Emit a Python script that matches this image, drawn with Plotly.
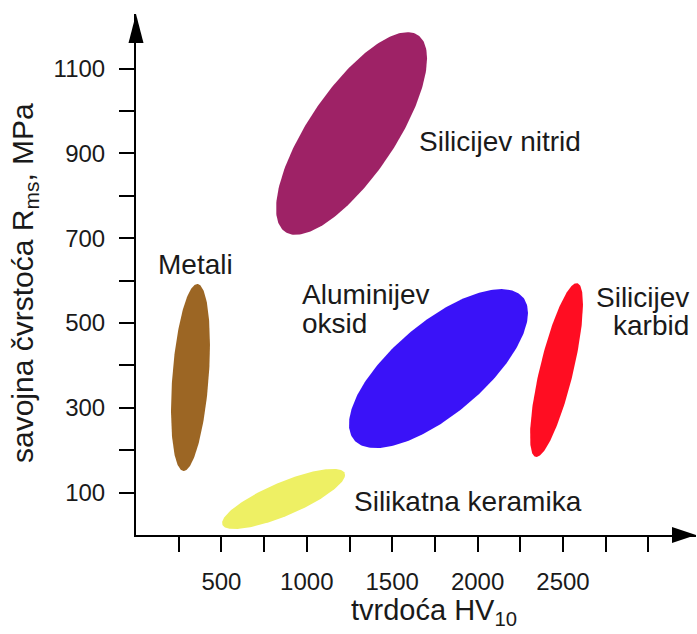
import numpy as np
import plotly.graph_objects as go

# ---- data ----
materials = ["Metali", "Silikatna keramika", "Silicijev nitrid", "Aluminijev oksid", "Silicijev karbid"]
hv_min = [205, 504, 820, 1247, 2307]
hv_max = [433, 1224, 1704, 2295, 2617]
rms_min = [151, 14, 708, 205, 184]
rms_max = [592, 156, 1186, 580, 594]
tilt_corr = [0.35, 0.80, 0.74, 0.70, 0.76]
colors = ["#9c6624", "#eef064", "#9e2266", "#3a12f8", "#ff0d22"]

x_major = [500, 1000, 1500, 2000, 2500]
x_major_text = ["500", "1000", "1500", "2000", "2500"]
x_minor = [250, 750, 1250, 1750, 2250, 2750, 3000]
y_major = [100, 300, 500, 700, 900, 1100]
y_major_text = ["100", "300", "500", "700", "900", "1100"]
y_minor = [200, 400, 600, 800, 1000]

W, H = 697, 634
ML, MR, MT, MB = 136, 1, 14, 99
pw, ph = W - ML - MR, H - MT - MB
px_per_x = 42.7 / 250
px_per_y = 42.4 / 100
x_range = [0, pw / px_per_x]
y_range = [0, ph / px_per_y]

FONT = "Liberation Sans, Arial, sans-serif"

fig = go.Figure()
t = np.linspace(0, 2 * np.pi, 241)
for name, x0, x1, y0, y1, r, c in zip(materials, hv_min, hv_max, rms_min, rms_max, tilt_corr, colors):
    cx, cy = (x0 + x1) / 2, (y0 + y1) / 2
    hx, hy = (x1 - x0) / 2, (y1 - y0) / 2
    d = np.arccos(r)
    fig.add_trace(go.Scatter(
        x=cx + hx * np.cos(t), y=cy + hy * np.cos(t - d),
        mode="lines", fill="toself", fillcolor=c,
        line=dict(width=0, color=c), name=name, hoverinfo="name", showlegend=False))

tick_font = dict(family=FONT, size=24, color="#1a1a1a")
fig.update_xaxes(range=x_range, showgrid=False, zeroline=False,
                 showline=True, linecolor="black", linewidth=2,
                 tickmode="array", tickvals=x_major, ticktext=x_major_text,
                 ticks="outside", ticklen=15, tickwidth=2, tickcolor="black",
                 ticklabelstandoff=9, tickfont=tick_font,
                 minor=dict(tickmode="array", tickvals=x_minor, ticks="outside",
                            ticklen=15, tickwidth=2, tickcolor="black"))
fig.update_yaxes(range=y_range, showgrid=False, zeroline=False,
                 showline=True, linecolor="black", linewidth=2,
                 tickmode="array", tickvals=y_major, ticktext=y_major_text,
                 ticks="outside", ticklen=15, tickwidth=2, tickcolor="black",
                 ticklabelstandoff=9, tickfont=tick_font,
                 minor=dict(tickmode="array", tickvals=y_minor, ticks="outside",
                            ticklen=15, tickwidth=2, tickcolor="black"))

def px2paper(px, py):
    return (px - ML) / pw, (H - MB - py) / ph

def tri(points):
    pts = [px2paper(*p) for p in points]
    return "M {} {} L {} {} L {} {} Z".format(*[v for p in pts for v in p])

fig.add_shape(type="path", xref="paper", yref="paper",
              path=tri([(696, 535), (672, 527), (672, 543)]),
              fillcolor="black", line=dict(width=0))
fig.add_shape(type="path", xref="paper", yref="paper",
              path=tri([(136, 14), (128.5, 43), (143.5, 43)]),
              fillcolor="black", line=dict(width=0))

lab_font = dict(family=FONT, size=28, color="#1a1a1a")
labels = [
    ("Metali", 117, 639, "left"),
    ("Silicijev nitrid", 1645, 928, "left"),
    ("Aluminijev", 960, 568, "left"),
    ("oksid", 960, 499, "left"),
    ("Silicijev", 3250, 560, "right"),
    ("karbid", 3250, 493, "right"),
    ("Silikatna keramika", 1265, 80, "left"),
]
for txt, x, y, anc in labels:
    fig.add_annotation(x=x, y=y, xref="x", yref="y", text=txt, showarrow=False,
                       xanchor=anc, yanchor="middle", font=lab_font)

fig.add_annotation(x=-64, y=-35, xref="x", yref="y", text="0", showarrow=False,
                   xanchor="center", yanchor="middle", font=tick_font)

tx, ty = px2paper(434, 612)
fig.add_annotation(x=tx, y=ty, xref="paper", yref="paper",
                   text="tvrdoća HV<sub>10</sub>", showarrow=False,
                   xanchor="center", yanchor="middle",
                   font=dict(family=FONT, size=29, color="#1a1a1a"))
ax_, ay_ = px2paper(24, 283)
fig.add_annotation(x=ax_, y=ay_, xref="paper", yref="paper",
                   text="savojna čvrstoća R<sub>ms</sub>, MPa", showarrow=False,
                   textangle=-90, xanchor="center", yanchor="middle",
                   font=dict(family=FONT, size=30, color="#1a1a1a"))

fig.update_layout(width=W, height=H, margin=dict(l=ML, r=MR, t=MT, b=MB),
                  paper_bgcolor="white", plot_bgcolor="white", showlegend=False)

fig.write_html("out.html", config={"displayModeBar": False},
               post_script="document.body.style.margin='0';document.body.style.overflow='hidden';")
